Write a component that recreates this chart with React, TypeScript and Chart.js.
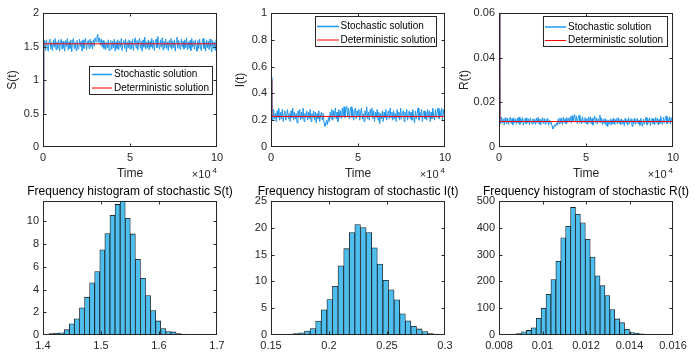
import React, { useEffect, useRef } from "react";
import { Chart, registerables } from "chart.js";

Chart.register(...registerables);

const W = 696;
const H = 357;
const FONT = '"Liberation Sans", Arial, Helvetica, sans-serif';
const AXIS_COLOR = "#262626";
const STOCH_COLOR = "#1e96f0";
const DET_COLOR = "#ff0000";
const BAR_FILL = "#4dbeee";
const BAR_EDGE = "#1a1a1a";

// ---------- time series (sampled every TIME_STEP time units, from t = 0) ----------
const TIME_STEP = 500;
const TIME_TICKS = [0, 50000, 100000];

const S_STOCH = [
  0.5,
  1.47, 1.59, 1.44, 1.60, 1.50, 1.43, 1.58, 1.61, 1.46, 1.56, 1.44, 1.59, 1.49, 1.62, 1.45, 1.57, 1.47, 1.60, 1.43, 1.55,
  1.61, 1.46, 1.58, 1.48, 1.43, 1.59, 1.50, 1.62, 1.45, 1.57, 1.47, 1.60, 1.42, 1.58, 1.62, 1.47, 1.56, 1.44, 1.59, 1.48,
  1.46, 1.61, 1.50, 1.58, 1.43, 1.60, 1.47, 1.57, 1.62, 1.45, 1.55, 1.59, 1.47, 1.61, 1.49, 1.58, 1.46, 1.60, 1.51, 1.63,
  1.57, 1.64, 1.68, 1.56, 1.63, 1.52, 1.61, 1.49, 1.59, 1.47, 1.57, 1.45, 1.56, 1.48, 1.60, 1.44, 1.55, 1.59, 1.46, 1.58,
  1.48, 1.61, 1.43, 1.57, 1.47, 1.60, 1.45, 1.58, 1.49, 1.62, 1.44, 1.56, 1.59, 1.47, 1.61, 1.42, 1.57, 1.48, 1.60, 1.46,
  1.58, 1.47, 1.61, 1.44, 1.56, 1.63, 1.48, 1.59, 1.45, 1.57, 1.62, 1.47, 1.58, 1.43, 1.60, 1.49, 1.64, 1.46, 1.57, 1.48,
  1.60, 1.45, 1.58, 1.49, 1.62, 1.47, 1.59, 1.44, 1.57, 1.61, 1.48, 1.65, 1.51, 1.46, 1.60, 1.49, 1.63, 1.45, 1.58, 1.48,
  1.61, 1.47, 1.57, 1.44, 1.59, 1.49, 1.62, 1.46, 1.58, 1.48, 1.60, 1.43, 1.57, 1.64, 1.47, 1.59, 1.50, 1.45, 1.61, 1.49,
  1.58, 1.46, 1.60, 1.48, 1.63, 1.45, 1.57, 1.47, 1.59, 1.44, 1.62, 1.49, 1.58, 1.46, 1.60, 1.50, 1.43, 1.59, 1.47, 1.61,
  1.49, 1.44, 1.58, 1.62, 1.47, 1.57, 1.43, 1.60, 1.48, 1.58, 1.45, 1.61, 1.50, 1.42, 1.59, 1.47, 1.57, 1.44, 1.60, 1.49,
];

const I_STOCH = [
  0.52,
  0.26, 0.20, 0.28, 0.21, 0.25, 0.19, 0.27, 0.22, 0.29, 0.20, 0.26, 0.21, 0.28, 0.19, 0.25, 0.27, 0.20, 0.24, 0.28, 0.21,
  0.25, 0.19, 0.27, 0.22, 0.29, 0.20, 0.26, 0.21, 0.25, 0.18, 0.27, 0.22, 0.28, 0.20, 0.26, 0.21, 0.29, 0.19, 0.25, 0.22,
  0.27, 0.20, 0.26, 0.21, 0.28, 0.19, 0.25, 0.22, 0.27, 0.20, 0.26, 0.18, 0.25, 0.21, 0.27, 0.19, 0.24, 0.26, 0.20, 0.25,
  0.18, 0.155, 0.17, 0.20, 0.165, 0.22, 0.19, 0.26, 0.21, 0.28, 0.20, 0.27, 0.22, 0.29, 0.21, 0.26, 0.19, 0.28, 0.22, 0.27,
  0.21, 0.29, 0.23, 0.30, 0.22, 0.28, 0.305, 0.23, 0.29, 0.21, 0.27, 0.30, 0.22, 0.28, 0.20, 0.26, 0.29, 0.21, 0.27, 0.23,
  0.28, 0.20, 0.26, 0.29, 0.21, 0.25, 0.19, 0.27, 0.22, 0.30, 0.21, 0.26, 0.20, 0.28, 0.23, 0.29, 0.21, 0.27, 0.19, 0.26,
  0.22, 0.28, 0.20, 0.26, 0.175, 0.25, 0.21, 0.27, 0.19, 0.26, 0.22, 0.28, 0.20, 0.25, 0.27, 0.21, 0.29, 0.22, 0.26, 0.20,
  0.27, 0.21, 0.25, 0.19, 0.28, 0.22, 0.26, 0.20, 0.29, 0.21, 0.25, 0.27, 0.19, 0.26, 0.22, 0.28, 0.20, 0.25, 0.27, 0.21,
  0.26, 0.20, 0.28, 0.22, 0.18, 0.27, 0.21, 0.25, 0.29, 0.20, 0.26, 0.22, 0.28, 0.19, 0.25, 0.27, 0.21, 0.26, 0.20, 0.28,
  0.22, 0.27, 0.19, 0.26, 0.21, 0.29, 0.23, 0.20, 0.28, 0.22, 0.26, 0.29, 0.21, 0.27, 0.23, 0.29, 0.20, 0.28, 0.24, 0.29,
];

const R_STOCH = [
  0.06,
  0.0128, 0.0103, 0.0134, 0.0108, 0.0125, 0.0099, 0.0131, 0.0112, 0.0104, 0.0129, 0.0101, 0.0123, 0.0133, 0.0105, 0.0127, 0.0100, 0.0131, 0.0109, 0.0124, 0.0102,
  0.0130, 0.0106, 0.0134, 0.0101, 0.0126, 0.0109, 0.0132, 0.0098, 0.0123, 0.0128, 0.0104, 0.0131, 0.0107, 0.0126, 0.0100, 0.0130, 0.0111, 0.0103, 0.0127, 0.0106,
  0.0124, 0.0101, 0.0130, 0.0108, 0.0133, 0.0103, 0.0126, 0.0099, 0.0122, 0.0131, 0.0105, 0.0127, 0.0102, 0.0124, 0.0109, 0.0129, 0.0097, 0.0121, 0.0104, 0.0110,
  0.0094, 0.0081, 0.0088, 0.0100, 0.0092, 0.0107, 0.0098, 0.0125, 0.0103, 0.0131, 0.0107, 0.0128, 0.0101, 0.0134, 0.0110, 0.0126, 0.0104, 0.0132, 0.0109, 0.0129,
  0.0113, 0.0136, 0.0107, 0.0140, 0.0116, 0.0133, 0.0145, 0.0112, 0.0137, 0.0105, 0.0131, 0.0142, 0.0110, 0.0129, 0.0104, 0.0135, 0.0114, 0.0108, 0.0132, 0.0106,
  0.0127, 0.0101, 0.0133, 0.0110, 0.0136, 0.0104, 0.0129, 0.0098, 0.0125, 0.0139, 0.0107, 0.0131, 0.0102, 0.0126, 0.0111, 0.0143, 0.0108, 0.0130, 0.0099, 0.0123,
  0.0105, 0.0128, 0.0096, 0.0122, 0.0092, 0.0119, 0.0102, 0.0126, 0.0098, 0.0123, 0.0104, 0.0130, 0.0100, 0.0121, 0.0127, 0.0103, 0.0132, 0.0107, 0.0124, 0.0099,
  0.0126, 0.0103, 0.0120, 0.0095, 0.0129, 0.0106, 0.0123, 0.0098, 0.0131, 0.0104, 0.0121, 0.0127, 0.0093, 0.0124, 0.0105, 0.0130, 0.0101, 0.0122, 0.0128, 0.0103,
  0.0121, 0.0097, 0.0129, 0.0106, 0.0092, 0.0125, 0.0102, 0.0120, 0.0133, 0.0099, 0.0124, 0.0107, 0.0131, 0.0096, 0.0122, 0.0128, 0.0103, 0.0126, 0.0100, 0.0132,
  0.0108, 0.0130, 0.0098, 0.0124, 0.0105, 0.0137, 0.0111, 0.0101, 0.0133, 0.0107, 0.0126, 0.0139, 0.0104, 0.0129, 0.0110, 0.0136, 0.0102, 0.0131, 0.0113, 0.0138,
];

const DET_TIME = [0, 400, 100000];
const S_DET = [0.5, 1.54, 1.54];
const I_DET = [0.5, 0.228, 0.228];
const R_DET = [0.06, 0.0114, 0.0114];

// ---------- histograms (bin centres and normalised frequencies) ----------
const S_BINS = [
  1.4058, 1.4146, 1.4233, 1.4321, 1.4409, 1.4497, 1.4584, 1.4672, 1.4760, 1.4847,
  1.4935, 1.5023, 1.5110, 1.5198, 1.5286, 1.5374, 1.5461, 1.5549, 1.5637, 1.5724,
  1.5812, 1.5900, 1.5987, 1.6075, 1.6163, 1.6251, 1.6338, 1.6426, 1.6514, 1.6601,
];
const S_FREQ = [
  0.05, 0.12, 0.18, 0.2, 0.47, 0.98, 1.43, 2.4, 3.33, 4.6,
  5.58, 7.5, 8.94, 10.55, 11.5, 11.8, 10.27, 8.9, 6.67, 5.0,
  3.48, 2.15, 1.24, 0.56, 0.3, 0.27, 0.12, 0.09, 0.06, 0.03,
];

const I_BINS = [
  0.1571, 0.1619, 0.1668, 0.1716, 0.1764, 0.1813, 0.1861, 0.1909, 0.1957, 0.2006,
  0.2054, 0.2102, 0.2151, 0.2199, 0.2247, 0.2296, 0.2344, 0.2392, 0.2440, 0.2489,
  0.2537, 0.2585, 0.2634, 0.2682, 0.2730, 0.2779, 0.2827, 0.2875, 0.2923, 0.2972,
];
const I_FREQ = [
  0.06, 0.1, 0.15, 0.25, 0.4, 0.75, 1.2, 2.6, 4.7, 6.6,
  9.1, 12.9, 16.1, 19.1, 20.6, 20.06, 19.1, 16.25, 13.25, 10.2,
  8.44, 6.56, 3.94, 2.63, 1.63, 1.13, 0.63, 0.25, 0.19, 0.1,
];

const R_BINS = [
  0.008243, 0.008469, 0.008694, 0.00892, 0.009146, 0.009372, 0.009597, 0.009823, 0.010049, 0.010274,
  0.0105, 0.010726, 0.010952, 0.011177, 0.011403, 0.011629, 0.011855, 0.01208, 0.012306, 0.012532,
  0.012757, 0.012983, 0.013209, 0.013435, 0.01366, 0.013886, 0.014112, 0.014337, 0.014563, 0.014789,
];
const R_FREQ = [
  1, 2, 3, 5, 12, 17, 27, 62, 100, 152,
  207, 275, 363, 406, 476, 450, 419, 357, 291, 221,
  184, 147, 95, 60, 46, 21, 9, 7.5, 4, 1,
];

const LEGEND_LABELS = ["Stochastic solution", "Deterministic solution"];

// ---------- layout ----------
type Area = { l: number; t: number; r: number; b: number };
const YW = 40;
const XH = 20;
const TICK = 3;

type Legend = { box: [number, number, number, number]; rows: [number, number]; lineX: [number, number]; textX: number };
type Decor = {
  title?: string;
  ylabel?: string;
  ylabelX?: number;
  xlabel?: boolean;
  legend?: Legend;
};

const fmt = (v: number | string) => String(parseFloat(Number(v).toFixed(6)));

function decorPlugin(d: Decor) {
  return {
    id: "decor",
    afterDraw(chart: any) {
      const { ctx, chartArea: a, scales } = chart;
      const L = Math.round(a.left) + 0.5;
      const T = Math.round(a.top) + 0.5;
      const R = Math.round(a.right) - 0.5;
      const B = Math.round(a.bottom) - 0.5;
      const cx = (a.left + a.right) / 2;
      const cy = (a.top + a.bottom) / 2;
      ctx.save();
      ctx.strokeStyle = AXIS_COLOR;
      ctx.lineWidth = 1;
      ctx.beginPath();
      const xs = scales.x;
      const ys = scales.y;
      for (const t of xs.ticks) {
        const p = Math.min(R, Math.max(L, Math.round(xs.getPixelForValue(t.value)) + 0.5));
        ctx.moveTo(p, B);
        ctx.lineTo(p, B - TICK);
        ctx.moveTo(p, T);
        ctx.lineTo(p, T + TICK);
      }
      for (const t of ys.ticks) {
        const p = Math.min(B, Math.max(T, Math.round(ys.getPixelForValue(t.value)) + 0.5));
        ctx.moveTo(L, p);
        ctx.lineTo(L + TICK, p);
        ctx.moveTo(R, p);
        ctx.lineTo(R - TICK, p);
      }
      ctx.stroke();
      ctx.strokeRect(L, T, R - L, B - T);

      ctx.fillStyle = AXIS_COLOR;
      if (d.title) {
        ctx.font = `12px ${FONT}`;
        ctx.fillStyle = "#000";
        ctx.textAlign = "center";
        ctx.textBaseline = "alphabetic";
        ctx.fillText(d.title, cx, 195);
      }
      if (d.xlabel) {
        ctx.fillStyle = AXIS_COLOR;
        ctx.font = `12px ${FONT}`;
        ctx.textAlign = "center";
        ctx.textBaseline = "alphabetic";
        ctx.fillText("Time", cx, 176.5);
        ctx.textAlign = "right";
        ctx.font = `11px ${FONT}`;
        ctx.fillText("\u00d710", R - 6, 177.5);
        ctx.font = `8px ${FONT}`;
        ctx.fillText("4", R + 0.5, 172.5);
      }
      if (d.ylabel) {
        ctx.fillStyle = AXIS_COLOR;
        ctx.font = `12px ${FONT}`;
        ctx.textAlign = "center";
        ctx.textBaseline = "middle";
        ctx.save();
        ctx.translate(d.ylabelX as number, cy);
        ctx.rotate(-Math.PI / 2);
        ctx.fillText(d.ylabel, 0, 0);
        ctx.restore();
      }
      if (d.legend) {
        const { box, rows, lineX, textX } = d.legend;
        ctx.fillStyle = "#fff";
        ctx.fillRect(box[0], box[1], box[2], box[3]);
        ctx.strokeStyle = AXIS_COLOR;
        ctx.strokeRect(box[0] + 0.5, box[1] + 0.5, box[2] - 1, box[3] - 1);
        const colors = [STOCH_COLOR, DET_COLOR];
        ctx.font = `10px ${FONT}`;
        ctx.textAlign = "left";
        ctx.textBaseline = "middle";
        rows.forEach((y, i) => {
          ctx.strokeStyle = colors[i];
          ctx.lineWidth = i === 0 ? 1.5 : 1;
          ctx.beginPath();
          ctx.moveTo(lineX[0], y + 0.5);
          ctx.lineTo(lineX[1], y + 0.5);
          ctx.stroke();
          ctx.fillStyle = "#000";
          ctx.fillText(LEGEND_LABELS[i], textX, y + 0.5);
        });
      }
      ctx.restore();
    },
  };
}

function axis(min: number, max: number, step: number, isX: boolean, cb: (v: any) => string) {
  return {
    type: "linear",
    min,
    max,
    offset: false,
    grid: { display: false, drawTicks: false },
    border: { display: false },
    ticks: {
      stepSize: step,
      padding: 4,
      color: AXIS_COLOR,
      font: { family: FONT, size: 11 },
      maxRotation: 0,
      minRotation: 0,
      autoSkip: false,
      includeBounds: false,
      callback: cb,
    },
    afterFit: (s: any) => {
      if (isX) s.height = XH;
      else s.width = YW;
    },
  };
}

function baseOptions(a: Area) {
  return {
    responsive: false,
    maintainAspectRatio: false,
    animation: false,
    devicePixelRatio: 1,
    events: [],
    layout: { padding: { left: a.l - YW, top: a.t, right: W - a.r, bottom: H - a.b - XH } },
    plugins: { legend: { display: false }, tooltip: { enabled: false }, title: { display: false } },
  };
}

function lineConfig(a: Area, stoch: number[], det: number[], ymax: number, ystep: number, decor: Decor) {
  return {
    type: "line",
    data: {
      datasets: [
        {
          label: LEGEND_LABELS[1],
          data: DET_TIME.map((t, i) => ({ x: t, y: det[i] })),
          borderColor: DET_COLOR,
          borderWidth: 1,
          pointRadius: 0,
          tension: 0,
          order: 0,
        },
        {
          label: LEGEND_LABELS[0],
          data: stoch.map((v, i) => ({ x: i * TIME_STEP, y: v })),
          borderColor: STOCH_COLOR,
          borderWidth: 1,
          pointRadius: 0,
          tension: 0,
          order: 1,
        },
      ],
    },
    options: {
      ...baseOptions(a),
      scales: {
        x: axis(TIME_TICKS[0], TIME_TICKS[TIME_TICKS.length - 1], TIME_TICKS[1] - TIME_TICKS[0], true, (v: any) => fmt(v / 1e4)),
        y: axis(0, ymax, ystep, false, (v: any) => fmt(v)),
      },
    },
    plugins: [decorPlugin(decor)],
  };
}

function histConfig(a: Area, bins: number[], freq: number[], xmin: number, xmax: number, xstep: number, ymax: number, ystep: number, title: string) {
  return {
    type: "bar",
    data: {
      datasets: [
        {
          data: bins.map((b, i) => ({ x: b, y: freq[i] })),
          backgroundColor: BAR_FILL,
          borderColor: BAR_EDGE,
          borderWidth: 0.8,
          borderSkipped: "start",
          barPercentage: 1,
          categoryPercentage: 1,
        },
      ],
    },
    options: {
      ...baseOptions(a),
      scales: {
        x: axis(xmin, xmax, xstep, true, (v: any) => fmt(v)),
        y: axis(0, ymax, ystep, false, (v: any) => fmt(v)),
      },
    },
    plugins: [decorPlugin({ title })],
  };
}

const TOP_S: Area = { l: 43, t: 13, r: 217, b: 147 };
const TOP_I: Area = { l: 271, t: 13, r: 445, b: 147 };
const TOP_R: Area = { l: 499, t: 13, r: 673, b: 147 };
const BOT_S: Area = { l: 43, t: 201, r: 217, b: 335 };
const BOT_I: Area = { l: 271, t: 201, r: 445, b: 335 };
const BOT_R: Area = { l: 499, t: 201, r: 673, b: 335 };

const CONFIGS: any[] = [
  lineConfig(TOP_S, S_STOCH, S_DET, 2, 0.5, {
    ylabel: "S(t)",
    ylabelX: 12.5,
    xlabel: true,
    legend: { box: [89, 66, 124, 29], rows: [74, 87.5], lineX: [92, 112], textX: 114 },
  }),
  lineConfig(TOP_I, I_STOCH, I_DET, 1, 0.2, {
    ylabel: "I(t)",
    ylabelX: 240.5,
    xlabel: true,
    legend: { box: [315, 16, 122, 31], rows: [26, 39.5], lineX: [317, 339], textX: 340.5 },
  }),
  lineConfig(TOP_R, R_STOCH, R_DET, 0.06, 0.02, {
    ylabel: "R(t)",
    ylabelX: 464.5,
    xlabel: true,
    legend: { box: [543, 16, 125, 31], rows: [26.5, 40], lineX: [545, 566], textX: 568 },
  }),
  histConfig(BOT_S, S_BINS, S_FREQ, 1.4, 1.7, 0.1, 11.8, 2, "Frequency histogram of stochastic S(t)"),
  histConfig(BOT_I, I_BINS, I_FREQ, 0.15, 0.3, 0.05, 25, 5, "Frequency histogram of stochastic I(t)"),
  histConfig(BOT_R, R_BINS, R_FREQ, 0.008, 0.016, 0.002, 500, 100, "Frequency histogram of stochastic R(t)"),
];

function ChartCanvas({ config }: { config: any }) {
  const ref = useRef<HTMLCanvasElement>(null);
  useEffect(() => {
    const chart = new Chart(ref.current as HTMLCanvasElement, config);
    return () => chart.destroy();
  }, [config]);
  return (
    <canvas
      ref={ref}
      width={W}
      height={H}
      style={{ position: "absolute", left: 0, top: 0, width: W, height: H }}
    />
  );
}

export default function App() {
  return (
    <div style={{ position: "fixed", left: 0, top: 0, width: W, height: H, background: "#fff", overflow: "hidden" }}>
      {CONFIGS.map((c, i) => (
        <ChartCanvas key={i} config={c} />
      ))}
    </div>
  );
}
